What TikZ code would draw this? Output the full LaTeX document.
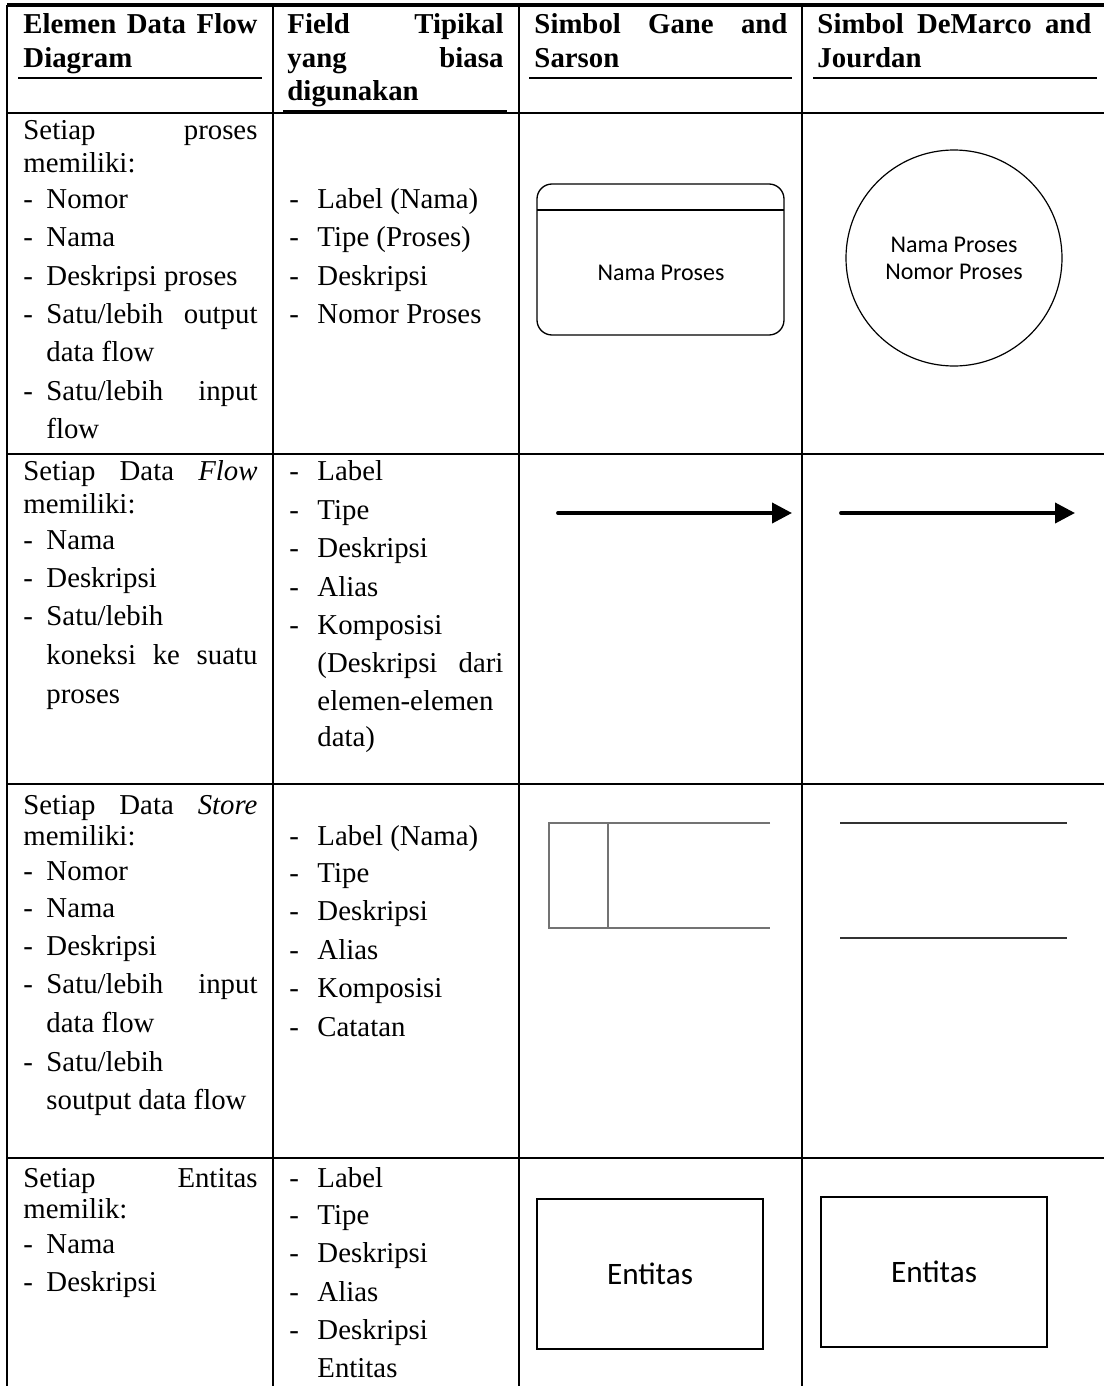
\documentclass[tikz,border=0pt]{standalone}
\usepackage{fontspec}
\setmainfont{Liberation Serif}
\newfontfamily\symfont{Carlito}
\usetikzlibrary{arrows.meta}
\newlength\pxu
\setlength\pxu{0.41667pt}
\newcommand\jline[2]{\makebox[#1\pxu][s]{#2}}
\newcommand\itm{\makebox[23\pxu][l]{-}}
\newcommand\itmb{\makebox[28\pxu][l]{-}}
\begin{document}
\begin{tikzpicture}[x=0.41667pt, y=-0.41667pt,
	txt/.style={black, anchor=base west, inner sep=0pt, font=\fontsize{12}{14}\selectfont},
	hd/.style={txt, font=\fontsize{12}{14}\selectfont\bfseries},
	grid/.style={draw=black, line width=1.1pt},
	flowarr/.style={draw=black, line width=1.6pt, line cap=round, -{Triangle[length=8.3pt,width=8.3pt]}},
	storeg/.style={draw=black!55, line width=0.6pt},
	stored/.style={draw=black!80, line width=0.8pt},
	entbox/.style={draw=black, line width=0.9pt, minimum width=226\pxu, minimum height=150\pxu, font=\symfont\fontsize{13}{15}\selectfont}]
	\useasboundingbox (0,0) rectangle (1104,1386);
	\draw[draw=black, line width=1.4pt] (7,5) -- (1104,5);
	\draw[grid] (7,5) -- (7,1386);
	\draw[grid] (273,5) -- (273,1386);
	\draw[grid] (519,5) -- (519,1386);
	\draw[grid] (802,5) -- (802,1386);
	\draw[grid] (7,113) -- (1104,113);
	\draw[grid] (7,454) -- (1104,454);
	\draw[grid] (7,784) -- (1104,784);
	\draw[grid] (7,1158) -- (1104,1158);
	\draw[grid] (18,78) -- (262,78);
	\draw[grid] (283,111) -- (507,111);
	\draw[grid] (529,78) -- (792,78);
	\draw[grid] (813,78) -- (1097,78);
	\node[hd] (h1a) at (23,33) {\jline{234}{Elemen Data Flow}};
	\node[hd] (h1b) at (23,67) {Diagram};
	\node[hd] (h2a) at (287,33) {\jline{216}{Field Tipikal}};
	\node[hd] (h2b) at (287,67) {\jline{216}{yang biasa}};
	\node[hd] (h2c) at (287,100) {digunakan};
	\node[hd] (h3a) at (534,33) {\jline{253}{Simbol Gane and}};
	\node[hd] (h3b) at (534,67) {Sarson};
	\node[hd] (h4a) at (817,33) {\jline{274}{Simbol DeMarco and}};
	\node[hd] (h4b) at (817,67) {Jourdan};
	\node[txt] (r1c1a) at (23,139) {\jline{234}{Setiap proses}};
	\node[txt] (r1c1b) at (23,172) {memiliki:};
	\node[txt] (r1c1c) at (23,208) {\itm Nomor};
	\node[txt] (r1c1d) at (23,246) {\itm Nama};
	\node[txt] (r1c1e) at (23,285) {\itm Deskripsi proses};
	\node[txt] (r1c1f) at (23,323) {\itm\jline{211}{Satu/lebih output}};
	\node[txt] (r1c1g) at (46,361) {data flow};
	\node[txt] (r1c1h) at (23,400) {\itm\jline{211}{Satu/lebih input}};
	\node[txt] (r1c1i) at (46,438) {flow};
	\node[txt] (r1c2a) at (289,208) {\itmb Label (Nama)};
	\node[txt] (r1c2b) at (289,246) {\itmb Tipe (Proses)};
	\node[txt] (r1c2c) at (289,285) {\itmb Deskripsi};
	\node[txt] (r1c2d) at (289,323) {\itmb Nomor Proses};
	\draw[draw=black, line width=0.55pt, rounded corners=6.25pt] (537,184) rectangle (784,335);
	\draw[draw=black, line width=0.55pt] (537,210) -- (784,210);
	\node[black, font=\symfont\fontsize{10}{12}\selectfont] (gsproc) at (661,273) {Nama Proses};
	\node[circle, draw=black, line width=0.5pt, minimum size=216\pxu, inner sep=0pt, align=center, font=\symfont\fontsize{10}{11.25}\selectfont] (dmproc) at (954,258) {Nama Proses\\Nomor Proses};
	\node[txt] (r2c1a) at (23,480) {\jline{234}{Setiap Data \textit{Flow}}};
	\node[txt] (r2c1b) at (23,513) {memiliki:};
	\node[txt] (r2c1c) at (23,549) {\itm Nama};
	\node[txt] (r2c1d) at (23,587) {\itm Deskripsi};
	\node[txt] (r2c1e) at (23,625) {\itm Satu/lebih};
	\node[txt] (r2c1f) at (46,664) {\jline{211}{koneksi ke suatu}};
	\node[txt] (r2c1g) at (46,703) {proses};
	\node[txt] (r2c2a) at (289,480) {\itmb Label};
	\node[txt] (r2c2b) at (289,519) {\itmb Tipe};
	\node[txt] (r2c2c) at (289,557) {\itmb Deskripsi};
	\node[txt] (r2c2d) at (289,596) {\itmb Alias};
	\node[txt] (r2c2e) at (289,634) {\itmb Komposisi};
	\node[txt] (r2c2f) at (317,672) {\jline{186}{(Deskripsi dari}};
	\node[txt] (r2c2g) at (317,710) {elemen-elemen};
	\node[txt] (r2c2h) at (317,746) {data)};
	\coordinate (gsfa) at (558,513);
	\coordinate (gsfb) at (792,513);
	\coordinate (dmfa) at (841,513);
	\coordinate (dmfb) at (1075,513);
	\draw[flowarr] (gsfa) -- (gsfb);
	\draw[flowarr] (dmfa) -- (dmfb);
	\node[txt] (r3c1a) at (23,814) {\jline{234}{Setiap Data \textit{Store}}};
	\node[txt] (r3c1b) at (23,845) {memiliki:};
	\node[txt] (r3c1c) at (23,880) {\itm Nomor};
	\node[txt] (r3c1d) at (23,917) {\itm Nama};
	\node[txt] (r3c1e) at (23,955) {\itm Deskripsi};
	\node[txt] (r3c1f) at (23,993) {\itm\jline{211}{Satu/lebih input}};
	\node[txt] (r3c1g) at (46,1032) {data flow};
	\node[txt] (r3c1h) at (23,1071) {\itm Satu/lebih};
	\node[txt] (r3c1i) at (46,1109) {soutput data flow};
	\node[txt] (r3c2a) at (289,845) {\itmb Label (Nama)};
	\node[txt] (r3c2b) at (289,882) {\itmb Tipe};
	\node[txt] (r3c2c) at (289,920) {\itmb Deskripsi};
	\node[txt] (r3c2d) at (289,959) {\itmb Alias};
	\node[txt] (r3c2e) at (289,997) {\itmb Komposisi};
	\node[txt] (r3c2f) at (289,1036) {\itmb Catatan};
	\draw[storeg] (770,823) -- (549,823) -- (549,928) -- (770,928);
	\draw[storeg] (608,823) -- (608,928);
	\draw[stored] (840,823) -- (1067,823);
	\draw[stored] (840,938) -- (1067,938);
	\node[txt] (r4c1a) at (23,1187) {\jline{234}{Setiap Entitas}};
	\node[txt] (r4c1b) at (23,1218) {memilik:};
	\node[txt] (r4c1c) at (23,1253) {\itm Nama};
	\node[txt] (r4c1d) at (23,1291) {\itm Deskripsi};
	\node[txt] (r4c2a) at (289,1187) {\itmb Label};
	\node[txt] (r4c2b) at (289,1224) {\itmb Tipe};
	\node[txt] (r4c2c) at (289,1262) {\itmb Deskripsi};
	\node[txt] (r4c2d) at (289,1301) {\itmb Alias};
	\node[txt] (r4c2e) at (289,1339) {\itmb Deskripsi};
	\node[txt] (r4c2f) at (317,1377) {Entitas};
	\node[entbox] (gsent) at (650,1274) {Entitas};
	\node[entbox] (dment) at (934,1272) {Entitas};
\end{tikzpicture}
\end{document}
